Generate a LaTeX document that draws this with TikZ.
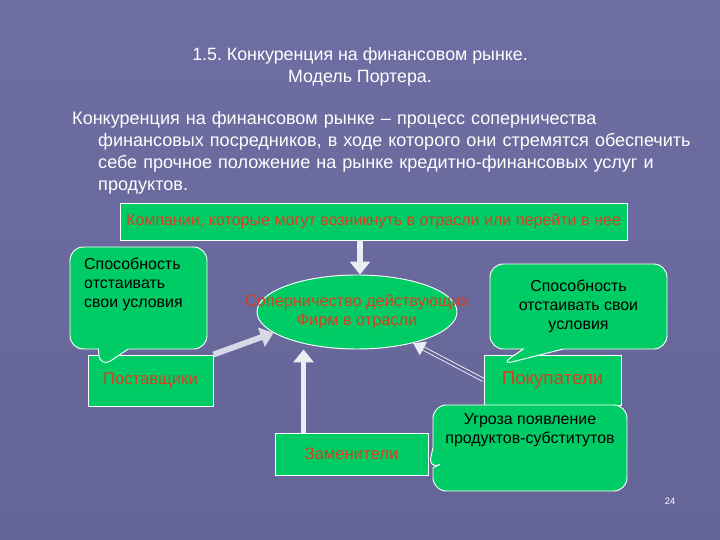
\documentclass[tikz,border=0pt]{standalone}
\usepackage{fontspec}
\setmainfont{Liberation Sans}
\usetikzlibrary{arrows.meta,shapes.geometric,shapes.callouts}
\frenchspacing

\definecolor{slidebg}{RGB}{100,100,150}
\definecolor{slidetop}{RGB}{110,110,164}
\definecolor{boxgreen}{RGB}{0,204,102}
\definecolor{boxred}{RGB}{214,64,34}
\definecolor{arrowwhite}{RGB}{236,236,244}

\begin{document}
\begin{tikzpicture}[x=0.03cm,y=-0.03cm,
  greenbox/.style={draw=white, fill=boxgreen, line width=0.8pt, inner sep=0pt},
  redlabel/.style={text=boxred, font=\fontsize{14.2}{16}\selectfont},
  bubble/.style={rectangle callout, draw=white, fill=boxgreen, line width=0.8pt,
    rounded corners=0.4cm, inner sep=0pt},
  bubbletext/.style={text=black, inner sep=0pt, font=\fontsize{13.6}{16.2}\selectfont},
  fatarrow/.style={draw=arrowwhite, line width=5pt, -{Triangle[width=17pt,length=11pt]}},
  thinarrow/.style={draw=arrowwhite, line width=0.8pt, double=slidebg, double distance=2pt,
    -{Triangle[width=13pt,length=10pt]}}]

  \shade[top color=slidetop, bottom color=slidebg] (0,0) rectangle (720,540);

  \node[text=white, align=center, font=\fontsize{15.2}{18.7}\selectfont] (title) at (360,67)
    {1.5. Конкуренция на финансовом рынке.\\Модель Портера.};

  \node[text=white, anchor=north west, inner sep=0pt, text width=18cm, align=left,
    font=\fontsize{15.4}{18.7}\selectfont] (definition) at (98,111)
    {\hspace*{-0.78cm}Конкуренция на финансовом рынке -- процесс соперничества\\
     финансовых посредников, в ходе которого они стремятся обеспечить\\
     себе прочное положение на рынке кредитно-финансовых услуг и\\
     продуктов.};

  \node[greenbox, minimum width=15.21cm, minimum height=1.11cm, redlabel,
    font=\fontsize{13.7}{15}\selectfont] (entrants) at (373.5,221.5)
    {Компании, которые могут возникнуть в отрасли или перейти в нее};

  \node[ellipse, greenbox, minimum width=6cm, minimum height=2.22cm] (rivalry) at (357,312) {};
  \node[redlabel, align=center, font=\fontsize{13.9}{16}\selectfont] (rivalrytext) at (rivalry.center)
    {Соперничество действующих\\Фирм в отрасли};

  \node[greenbox, minimum width=3.75cm, minimum height=1.53cm, redlabel] (suppliers) at (150.5,380.5)
    {Поставщики};
  \node[bubble, minimum width=4.11cm, minimum height=3.06cm, callout pointer width=0.9cm,
    callout absolute pointer={(100,368)}] (supbubble) at (138.5,298) {};
  \node[bubbletext, anchor=north west, align=left] (supbubbletext) at (84,258)
    {Способность\\отстаивать\\свои условия};

  \node[greenbox, minimum width=4.11cm, minimum height=1.5cm, redlabel,
    font=\fontsize{16}{18}\selectfont] (buyers) at (552.5,380) {Покупатели};
  \node[bubble, bubbletext, align=center, minimum width=5.31cm, minimum height=2.55cm,
    callout pointer width=1.2cm, callout absolute pointer={(500,365)}] (buybubble) at (578.5,306.5)
    {Способность\\отстаивать свои\\условия};

  \node[greenbox, minimum width=4.59cm, minimum height=1.26cm, redlabel] (substitutes) at (351.5,454)
    {Заменители};
  \node[bubble, minimum width=5.82cm, minimum height=2.58cm, callout pointer width=0.6cm,
    callout absolute pointer={(428,470)}] (subbubble) at (530,448) {};
  \node[bubbletext, anchor=north, align=center] (subbubbletext) at (530,413)
    {Угроза появление\\продуктов-субститутов};

  \draw[fatarrow] (entrants.south -| 360,0) -- (rivalry.north -| 360,0);
  \draw[fatarrow, draw=arrowwhite!85!slidebg] (suppliers.north east) -- (rivalry.194);
  \draw[thinarrow] (buyers.west) -- (rivalry.331);
  \draw[fatarrow, line width=4pt] ([xshift=0.87cm]substitutes.north west) -- ([xshift=0.87cm]substitutes.north west |- rivalry.south);

  \node[text=white, font=\fontsize{8}{10}\selectfont] (pagenum) at (670,501) {24};

\end{tikzpicture}
\end{document}
